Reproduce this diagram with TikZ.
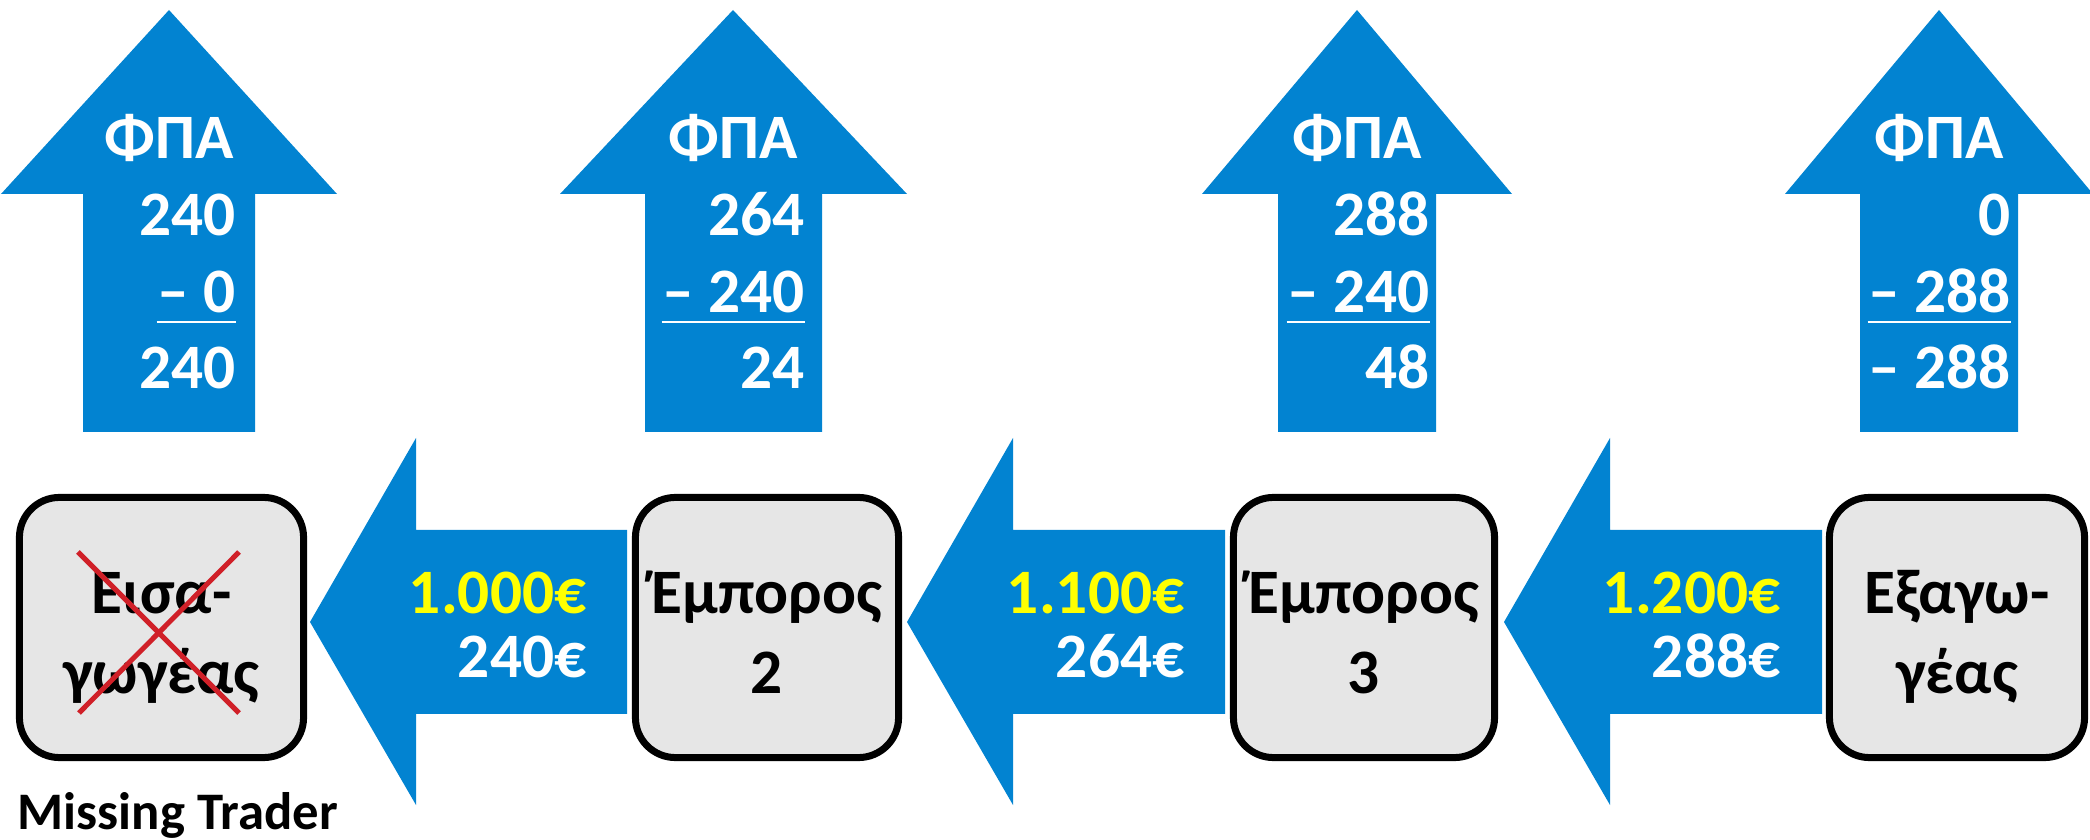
\documentclass[tikz,border=0pt]{standalone}
\usepackage{fontspec}
\setmainfont{Carlito}
\definecolor{vatblue}{RGB}{2,131,209}
\definecolor{vatyellow}{RGB}{255,255,0}
\definecolor{boxgray}{RGB}{230,230,230}
\definecolor{crossred}{RGB}{208,32,40}
\begin{document}
\begin{tikzpicture}[x=0.01cm, y=-0.01cm,
  txt/.style={font=\bfseries\fontsize{18pt}{18pt}\selectfont, inner sep=0pt},
  wnum/.style={txt, text=white, anchor=base east},
  whead/.style={txt, text=white, anchor=base},
  ynum/.style={txt, text=vatyellow, anchor=base east},
  blabel/.style={txt, text=black, anchor=base},
  tradebox/.style={draw=black, line width=0.07cm, fill=boxgray, rounded corners=0.4cm, minimum height=2.6cm, inner sep=0pt},
  uline/.style={draw=white, line width=0.027cm},
  cross/.style={draw=crossred, line width=0.05cm}
]
\useasboundingbox (0,0) rectangle (2090,840);

% up arrows (VAT)
\fill[vatblue] (169,10) -- (337,194) -- (255,194) -- (255,432) -- (83,432) -- (83,194) -- (1,194) -- cycle;
\fill[vatblue] (733,10) -- (907,194) -- (822,194) -- (822,432) -- (645,432) -- (645,194) -- (560,194) -- cycle;
\fill[vatblue] (1357,10) -- (1512,194) -- (1436,194) -- (1436,432) -- (1278,432) -- (1278,194) -- (1202,194) -- cycle;
\fill[vatblue] (1939,10) -- (2093,194) -- (2018,194) -- (2018,432) -- (1860,432) -- (1860,194) -- (1785,194) -- cycle;

% left arrows (sales)
\fill[vatblue] (310,622) -- (416,438) -- (416,530) -- (627,530) -- (627,714) -- (416,714) -- (416,805) -- cycle;
\fill[vatblue] (907,622) -- (1013,438) -- (1013,530) -- (1225,530) -- (1225,714) -- (1013,714) -- (1013,805) -- cycle;
\fill[vatblue] (1504,622) -- (1610,438) -- (1610,530) -- (1822,530) -- (1822,714) -- (1610,714) -- (1610,805) -- cycle;

% traders
\node[tradebox, minimum width=2.84cm] (b1) at (161.5,627.5) {};
\node[tradebox, minimum width=2.63cm] (b2) at (767,627.5) {};
\node[tradebox, minimum width=2.61cm] (b3) at (1364,627.5) {};
\node[tradebox, minimum width=2.55cm] (b4) at (1957,627.5) {};

\node[blabel] (b1a) at (161.5,614) {Εισα-};
\node[blabel] (b1b) at (161.5,693) {γωγέας};
\node[blabel] (b2a) at (767,614) {Έμπορος};
\node[blabel] (b2b) at (767,693) {2};
\node[blabel] (b3a) at (1364,614) {Έμπορος};
\node[blabel] (b3b) at (1364,693) {3};
\node[blabel] (b4a) at (1957,614) {Εξαγω-};
\node[blabel] (b4b) at (1957,693) {γέας};

% cross over importer
\coordinate (x1) at (78,552);
\coordinate (x2) at (239,713);
\coordinate (x3) at (239,552);
\coordinate (x4) at (79,713);
\draw[cross] (x1) -- (x2);
\draw[cross] (x3) -- (x4);

\node[txt, font=\bfseries\fontsize{15pt}{15pt}\selectfont, anchor=base west] (mt) at (17,830) {Missing Trader};

% sale amounts
\node[ynum] (s1a) at (587,614) {1.000€};
\node[wnum] (s1b) at (587,678) {240€};
\node[ynum] (s2a) at (1185,614) {1.100€};
\node[wnum] (s2b) at (1185,678) {264€};
\node[ynum] (s3a) at (1781,614) {1.200€};
\node[wnum] (s3b) at (1781,678) {288€};

% VAT computations
\node[whead] (h1) at (169,159) {ΦΠΑ};
\node[wnum] (v1a) at (236,236) {240};
\node[wnum] (v1b) at (236,313) {– 0};
\node[wnum] (v1c) at (236,389) {240};
\draw[uline] ([yshift=-0.09cm]v1b.base west) -- ([yshift=-0.09cm]v1b.base east);

\node[whead] (h2) at (733,159) {ΦΠΑ};
\node[wnum] (v2a) at (805,236) {264};
\node[wnum] (v2b) at (805,313) {– 240};
\node[wnum] (v2c) at (805,389) {24};
\draw[uline] ([yshift=-0.09cm]v2b.base west) -- ([yshift=-0.09cm]v2b.base east);

\node[whead] (h3) at (1357,159) {ΦΠΑ};
\node[wnum] (v3a) at (1430,236) {288};
\node[wnum] (v3b) at (1430,313) {– 240};
\node[wnum] (v3c) at (1430,389) {48};
\draw[uline] ([yshift=-0.09cm]v3b.base west) -- ([yshift=-0.09cm]v3b.base east);

\node[whead] (h4) at (1939,159) {ΦΠΑ};
\node[wnum] (v4a) at (2011,236) {0};
\node[wnum] (v4b) at (2011,313) {– 288};
\node[wnum] (v4c) at (2011,389) {– 288};
\draw[uline] ([yshift=-0.09cm]v4b.base west) -- ([yshift=-0.09cm]v4b.base east);
\end{tikzpicture}
\end{document}
